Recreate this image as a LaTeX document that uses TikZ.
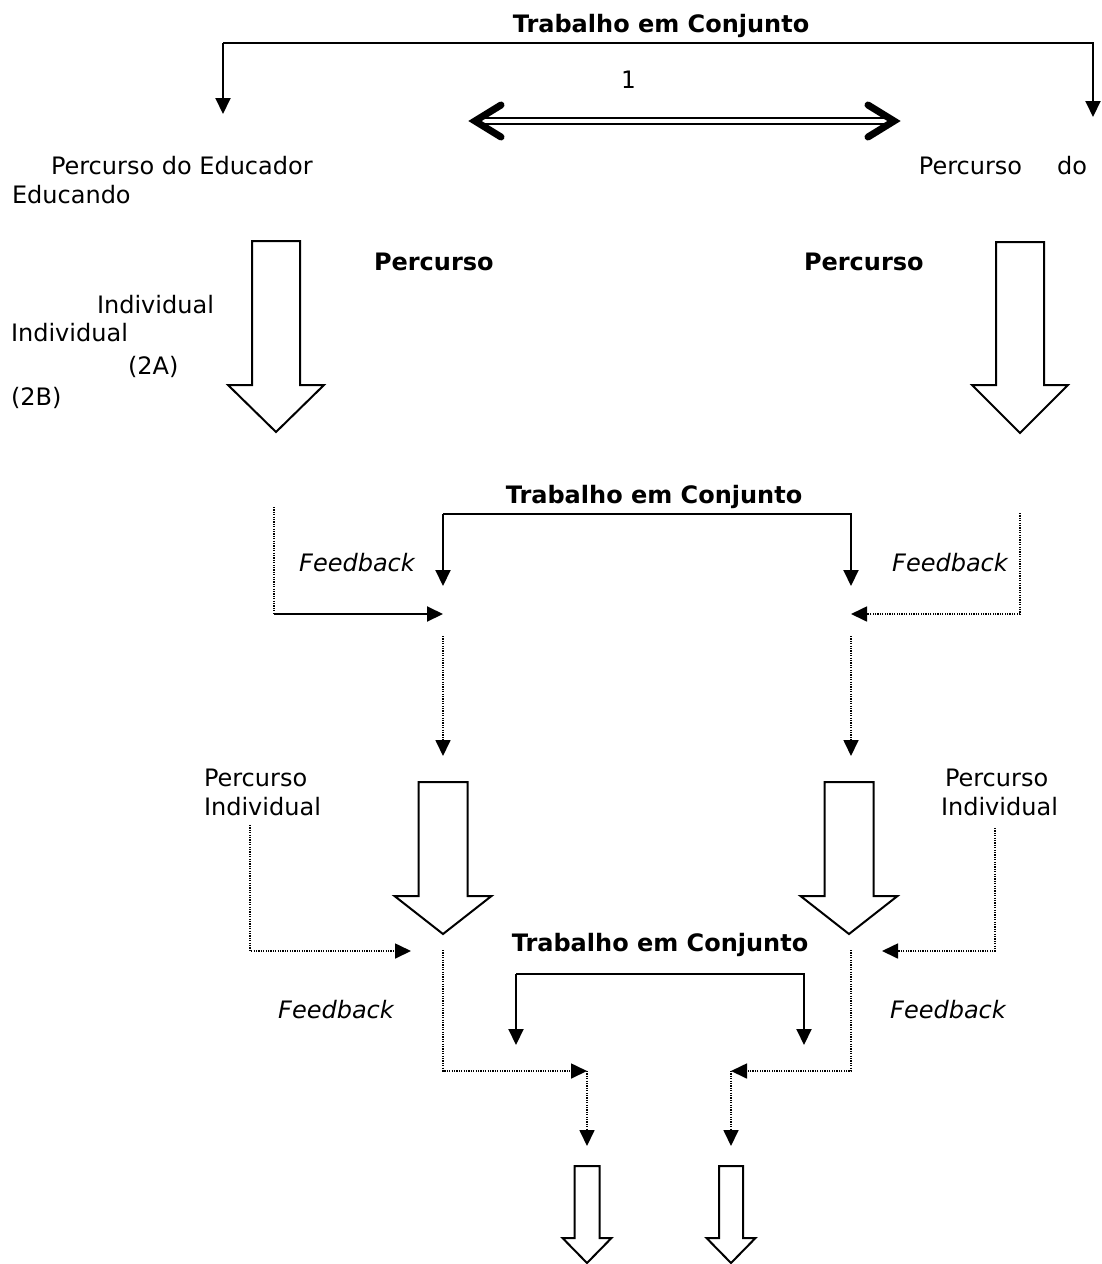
\documentclass[tikz,border=0pt]{standalone}
\usepackage{fontspec}
\setmainfont{DejaVu Sans}
\setmonofont{DejaVu Sans Mono}
\usetikzlibrary{arrows.meta}

% block arrow: centre x, top, shaft half width, shoulder, head half width, tip
\newcommand{\blocoseta}[6]{%
  \draw[bloco] ({#1-#3},#2) -- ({#1+#3},#2) -- ({#1+#3},#4) -- ({#1+#5},#4)
    -- (#1,#6) -- ({#1-#5},#4) -- ({#1-#3},#4) -- cycle;}

\begin{document}
\begin{tikzpicture}[x=0.5pt,y=-0.5pt, line width=1pt,
    texto/.style={inner sep=0pt, font=\fontsize{12}{14.5}\selectfont},
    negrito/.style={texto, font=\fontsize{12}{14.5}\selectfont\bfseries},
    italico/.style={texto, font=\fontsize{12}{14.5}\selectfont\itshape},
    seta/.style={-{Triangle[length=8pt,width=7.5pt]}},
    pont/.style={line width=0.85pt, dash pattern=on 0.6pt off 0.6pt},
    bloco/.style={line width=1pt, fill=white, line join=miter},
    chevron/.style={line width=3.5pt, line cap=round, line join=miter}]
  \useasboundingbox (0,0) rectangle (1102,1264);

  % Top: joint work between the two paths
  \node[negrito] (tc1) at (661,26) {Trabalho em Conjunto};
  \coordinate (t1l) at (223,43);
  \coordinate (t1r) at (1093,43);
  \coordinate (edu) at (223,114);
  \coordinate (aln) at (1093,117);
  \draw[seta] (t1l) -- (edu);
  \draw[seta] (t1l) -- (t1r) -- (aln);

  \node[texto, font=\fontsize{12}{14.5}\selectfont\ttfamily] (um) at (628,80) {1};
  \coordinate (dl) at (475,121);
  \coordinate (dr) at (894,121);
  \draw[double, double distance=2pt, line width=0.9pt] (dl) -- (dr);
  \draw[chevron] ([shift={(26,-16)}]dl) -- (dl) -- ([shift={(26,16)}]dl);
  \draw[chevron] ([shift={(-26,-16)}]dr) -- (dr) -- ([shift={(-26,16)}]dr);

  \node[texto, anchor=west] (pe1) at (50,166) {Percurso do Educador};
  \node[texto, anchor=west] (pe2) at (11,195) {Educando};
  \node[texto, anchor=east] (pa1) at (1088,166) {Percurso\hspace{17.5pt}do};

  \node[negrito, anchor=west] (pc1) at (373,262) {Percurso};
  \node[negrito, anchor=west] (pc2) at (803,262) {Percurso};
  \node[texto, anchor=west] (in1) at (96,305) {Individual};
  \node[texto, anchor=west] (in2) at (10,333) {Individual};
  \node[texto, anchor=west] (n2a) at (127,367) {(2A)};
  \node[texto, anchor=west] (n2b) at (10,398) {(2B)};

  \blocoseta{276}{241}{24}{385}{48}{432}
  \blocoseta{1020}{242}{24}{385}{48}{433}

  % Middle: second joint work and feedback
  \node[negrito] (tc2) at (654,497) {Trabalho em Conjunto};
  \coordinate (m2l) at (443,514);
  \coordinate (m2r) at (851,514);
  \coordinate (ca) at (443,586);
  \coordinate (cb) at (851,586);
  \draw[seta] (m2l) -- (ca);
  \draw[seta] (m2l) -- (m2r) -- (cb);

  \node[italico] (fb1) at (357,563) {Feedback};
  \node[italico] (fb2) at (950,563) {Feedback};
  \coordinate (ea) at (274,507);
  \coordinate (eb) at (274,614);
  \coordinate (ec) at (443,614);
  \draw[pont] (ea) -- (eb);
  \draw[seta] (eb) -- (ec);
  \coordinate (ra) at (1020,513);
  \coordinate (rb) at (1020,614);
  \coordinate (rc) at (851,614);
  \draw[pont, seta] (ra) -- (rb) -- (rc);

  \coordinate (da) at (443,636);
  \coordinate (db) at (443,756);
  \coordinate (dc) at (851,636);
  \coordinate (dd) at (851,756);
  \draw[pont, seta] (da) -- (db);
  \draw[pont, seta] (dc) -- (dd);

  \node[texto, anchor=west, align=left] (pi1) at (203,792) {Percurso\\Individual};
  \node[texto, anchor=west, align=left] (pi2) at (940,792) {\hspace{2pt}Percurso\\Individual};

  \blocoseta{443}{782}{24.5}{896}{48.5}{934}
  \blocoseta{849}{782}{24.5}{896}{48.5}{934}

  \coordinate (ia) at (250,825);
  \coordinate (ib) at (250,951);
  \coordinate (ic) at (411,951);
  \draw[pont, seta] (ia) -- (ib) -- (ic);
  \coordinate (ja) at (995,828);
  \coordinate (jb) at (995,951);
  \coordinate (jc) at (882,951);
  \draw[pont, seta] (ja) -- (jb) -- (jc);

  % Bottom: third joint work
  \node[negrito] (tc3) at (660,945) {Trabalho em Conjunto};
  \coordinate (b3l) at (516,974);
  \coordinate (b3r) at (804,974);
  \coordinate (ka) at (516,1045);
  \coordinate (kb) at (804,1045);
  \draw[seta] (b3l) -- (ka);
  \draw[seta] (b3l) -- (b3r) -- (kb);

  \node[italico] (fb3) at (336,1010) {Feedback};
  \node[italico] (fb4) at (948,1010) {Feedback};
  \coordinate (la) at (443,950);
  \coordinate (lb) at (443,1071);
  \coordinate (lc) at (587,1071);
  \coordinate (ld) at (587,1146);
  \draw[pont, seta] (la) -- (lb) -- (lc);
  \draw[pont, seta] (lc) -- (ld);
  \coordinate (qa) at (851,950);
  \coordinate (qb) at (851,1071);
  \coordinate (qc) at (731,1071);
  \coordinate (qd) at (731,1146);
  \draw[pont, seta] (qa) -- (qb) -- (qc);
  \draw[pont, seta] (qc) -- (qd);

  \blocoseta{587}{1166}{12.5}{1238}{24.5}{1263}
  \blocoseta{731}{1166}{12}{1238}{24.5}{1263}
\end{tikzpicture}
\end{document}
